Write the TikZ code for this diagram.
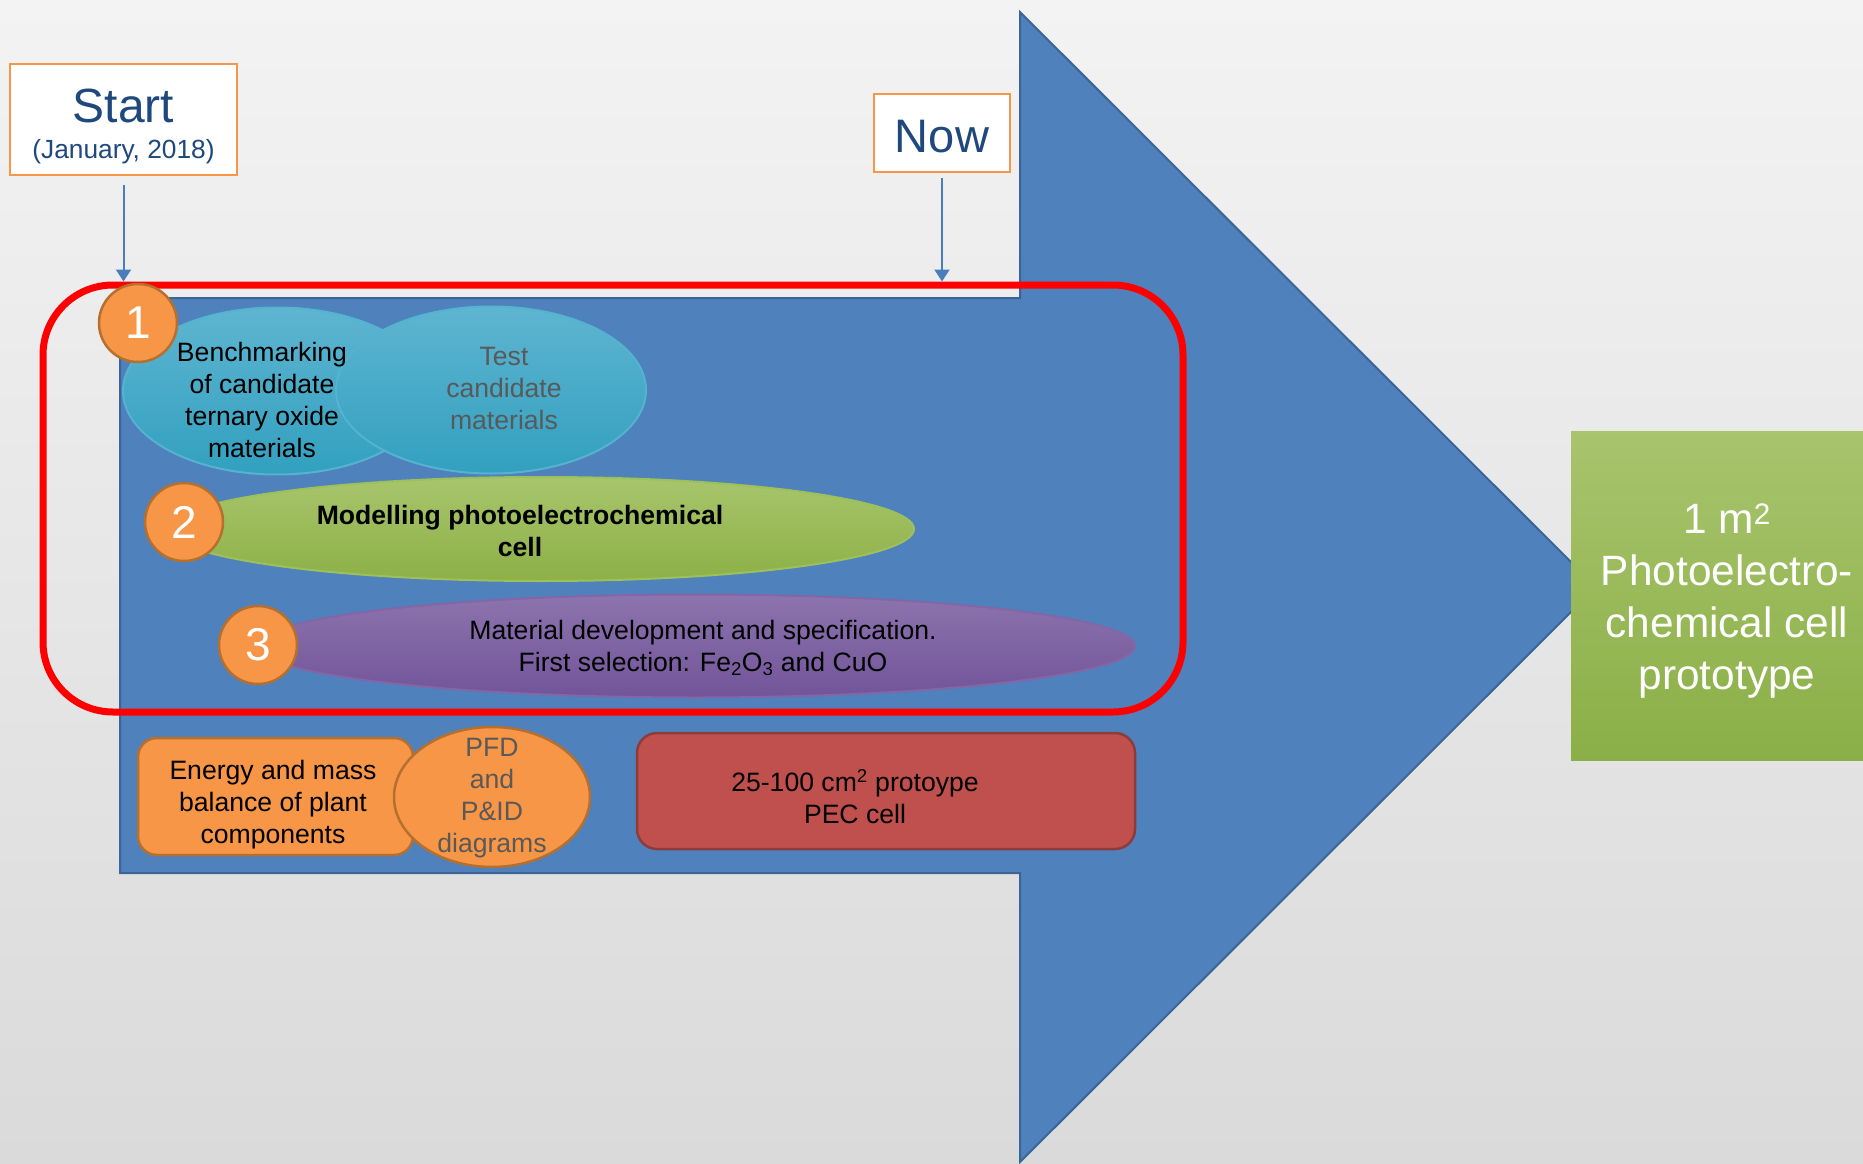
\documentclass[tikz,border=0pt]{standalone}
\usepackage{fontspec}
\setmainfont{Liberation Sans}
\usetikzlibrary{shapes.geometric,arrows.meta}

\definecolor{bgtop}{HTML}{F3F3F4}
\definecolor{bgmid}{HTML}{EDEDED}
\definecolor{bgbot}{HTML}{DADADA}
\definecolor{arrowblue}{HTML}{4F81BD}
\definecolor{arrowline}{HTML}{3B6596}
\definecolor{markblue}{HTML}{4A7EBB}
\definecolor{tagline}{HTML}{F79646}
\definecolor{tagtext}{HTML}{1F497D}
\definecolor{dotfill}{HTML}{F79646}
\definecolor{dotline}{HTML}{B5702F}
\definecolor{tealtop}{HTML}{5EB5D0}
\definecolor{tealbot}{HTML}{32A0C0}
\definecolor{tealline}{HTML}{55B3CF}
\definecolor{greentop}{HTML}{A8C56C}
\definecolor{greenbot}{HTML}{8DB047}
\definecolor{greenline}{HTML}{9DC05A}
\definecolor{violettop}{HTML}{8C74AE}
\definecolor{violetbot}{HTML}{725499}
\definecolor{violetline}{HTML}{8466A6}
\definecolor{brickfill}{HTML}{C0504D}
\definecolor{brickline}{HTML}{8E3C3A}
\definecolor{goaltop}{HTML}{A8C46D}
\definecolor{goalbot}{HTML}{8BAF47}
\definecolor{greytext}{HTML}{595959}

\tikzset{
  bodytext/.style={align=center, inner sep=0pt, font=\fontsize{26.6}{32}\selectfont},
  numdot/.style={circle, minimum size=78pt, inner sep=0pt, fill=dotfill, draw=dotline,
    line width=2.5pt, text=white, font=\fontsize{46}{46}\selectfont},
  blob/.style={ellipse, inner sep=0pt, line width=2pt},
  tealblob/.style={blob, top color=tealtop, bottom color=tealbot, draw=tealline},
  greenblob/.style={blob, top color=greentop, bottom color=greenbot, draw=greenline},
  violetblob/.style={blob, top color=violettop, bottom color=violetbot, draw=violetline},
  orangeblob/.style={blob, fill=dotfill, draw=dotline, line width=2.5pt},
  tagbox/.style={rectangle, fill=white, draw=tagline, line width=2.5pt, text=tagtext, align=center},
  markarrow/.style={draw=markblue, line width=2pt, -{Triangle[width=15pt,length=12pt]}},
  phaseframe/.style={rectangle, rounded corners=70pt, draw=red, line width=7pt, inner sep=0pt,
    minimum width=1140pt, minimum height=427pt},
  taskbox/.style={rectangle, inner sep=0pt, line width=2.5pt}
}

\begin{document}
\begin{tikzpicture}[x=1pt,y=-1pt]
  \useasboundingbox (0,0) rectangle (1863,1164);
  \shade[top color=bgtop, middle color=bgmid, bottom color=bgbot] (0,0) rectangle (1863,1164);
  % big arrow
  \draw[fill=arrowblue, draw=arrowline, line width=2pt]
    (120,298) -- (1020,298) -- (1020,12) -- (1596,587) -- (1020,1162) -- (1020,873) -- (120,873) -- cycle;
  \node[rectangle, inner sep=0pt, minimum width=312pt, minimum height=329pt,
    top color=goaltop, bottom color=goalbot] (goal) at (1727,595.5) {};
  \node[align=center, inner sep=0pt, text=white, font=\fontsize{42.4}{51.7}\selectfont]
    (goaltext) at (1727,601) {1 m\textsuperscript{2}\\Photoelectro-\\chemical cell\\prototype};
  % current phase
  \node[phaseframe] (phase) at (613,498.5) {};
  \node[tagbox, minimum width=227pt, minimum height=111pt, font=\fontsize{26.3}{36}\selectfont]
    (start) at (123.5,119.5) {{\fontsize{48}{36}\selectfont\rule{0pt}{47pt}Start}\\(January, 2018)};
  \node[tagbox, minimum width=136pt, minimum height=78pt, font=\fontsize{47}{47}\selectfont]
    (now) at (942,133) {\rule{0pt}{39pt}Now};
  \draw[markarrow, shorten <=9pt] (start) -- (start |- phase.north);
  \draw[markarrow, shorten <=5pt] (now) -- (now |- phase.north);
  % tasks
  \node[tealblob, minimum width=308pt, minimum height=167pt] (bench) at (277,391) {};
  \node[tealblob, minimum width=310pt, minimum height=167pt] (test) at (491,390) {};
  \node[greenblob, minimum width=746pt, minimum height=104pt] (model) at (541,529) {};
  \node[violetblob, minimum width=880pt, minimum height=103pt] (material) at (695,646) {};
  \node[taskbox, rounded corners=19pt, fill=dotfill, draw=dotline, minimum width=275pt,
    minimum height=117pt] (energy) at (275.5,796.5) {};
  \node[orangeblob, minimum width=196pt, minimum height=140pt] (pfd) at (492,797) {};
  \node[taskbox, rounded corners=20pt, fill=brickfill, draw=brickline, minimum width=498pt,
    minimum height=116pt] (pec) at (886,791) {};
  \node[bodytext] (benchtext) at (262,400) {Benchmarking\\of candidate\\ternary oxide\\materials};
  \node[bodytext, text=greytext] (testtext) at (504,388) {Test\\candidate\\materials};
  \node[bodytext, font=\fontsize{26.6}{32}\selectfont\bfseries] (modeltext) at (520,531)
    {Modelling photoelectrochemical\\cell};
  \node[bodytext] (materialtext) at (703,648)
    {Material development and specification.\\First selection: Fe\textsubscript{2}O\textsubscript{3} and CuO};
  \node[bodytext] (energytext) at (273,805) {Energy and mass\\balance of plant\\components};
  \node[bodytext, text=greytext] (pfdtext) at (492,798) {PFD\\and\\P\&ID\\diagrams};
  \node[bodytext] (pectext) at (855,796.5) {25-100 cm\textsuperscript{2} protoype\\PEC cell};
  % numbers
  \node[numdot] (one) at (138,323) {1};
  \node[numdot] (two) at (184,522) {2};
  \node[numdot] (three) at (258,645) {3};
\end{tikzpicture}
\end{document}
